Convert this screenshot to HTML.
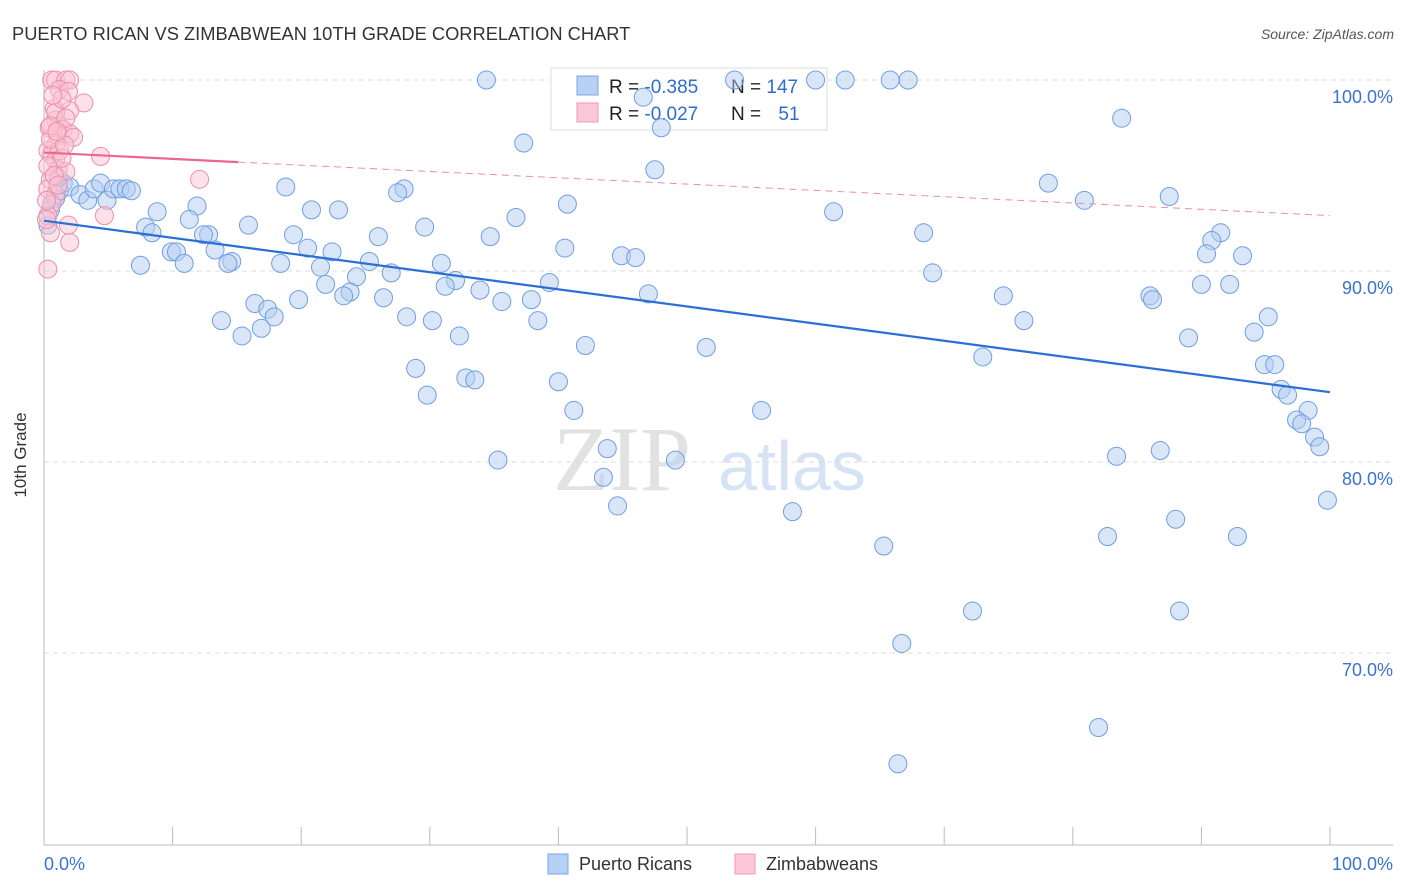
<!DOCTYPE html>
<html><head><meta charset="utf-8"><style>
body{margin:0;background:#fff;font-family:"Liberation Sans",sans-serif}
svg{display:block}
</style></head><body>
<svg id="chart" width="1406" height="892" xmlns="http://www.w3.org/2000/svg">
<text x="12" y="40" font-size="18.3" fill="#333">PUERTO RICAN VS ZIMBABWEAN 10TH GRADE CORRELATION CHART</text>
<text x="1394" y="39" font-size="14" fill="#555" text-anchor="end" font-style="italic">Source: ZipAtlas.com</text>
<g>
<text x="553" y="490" font-size="92" fill="#e2e2e2" font-family="Liberation Serif,serif">ZIP</text>
<text x="718" y="490" font-size="70" fill="#d6e3f5">atlas</text>
</g>
<g id="grid"></g>
<g id="axes"></g>
<g>
<rect x="551" y="68" width="276" height="62" fill="#fff" stroke="#ddd"/>
<rect x="577" y="76" width="21" height="19" fill="#b7d0f3" stroke="#7aa6e6"/>
<rect x="577" y="103" width="21" height="19" fill="#fac8d6" stroke="#ef98b2"/>
<text x="609" y="93" font-size="19" fill="#222">R = <tspan fill="#2e6dd0">-0.385</tspan></text>
<text x="731" y="93" font-size="19" fill="#222">N = <tspan fill="#2e6dd0">147</tspan></text>
<text x="609" y="120" font-size="19" fill="#222">R = <tspan fill="#2e6dd0">-0.027</tspan></text>
<text x="731" y="120" font-size="19" fill="#222">N = <tspan fill="#2e6dd0" dx="12">51</tspan></text>
</g>
<g id="pts"></g>
<g id="lines"></g>
<text x="26" y="455" font-size="17" fill="#333" transform="rotate(-90 26 455)" text-anchor="middle">10th Grade</text>
<g>
<rect x="548" y="854" width="20" height="20" fill="#b7d0f3" stroke="#7aa6e6"/>
<text x="579" y="870" font-size="18" fill="#333">Puerto Ricans</text>
<rect x="735" y="854" width="20" height="20" fill="#fac8d6" stroke="#ef98b2"/>
<text x="766" y="870" font-size="18" fill="#333">Zimbabweans</text>
</g>
</svg>
<script>
const xTicks=[0,10,20,30,40,50,60,70,80,90,100];
const yTicks=[100,90,80,70];
const yTickLabels=["100.0%","90.0%","80.0%","70.0%"];
const xAxisLabels=["0.0%","100.0%"];
const blueX=[34.4,53.7,60.0,62.3,65.8,67.2,46.6,48.0,37.3,83.8,47.5,28.0,27.5,18.8,78.1,80.9,87.5,61.4,40.7,36.7,29.6,22.9,20.8,15.9,11.9,11.3,8.8,7.9,8.4,12.8,12.4,19.4,26.0,34.7,68.4,91.5,90.8,90.4,93.2,40.5,44.9,46.0,20.5,22.4,9.9,10.3,13.3,7.5,10.9,14.6,14.3,18.4,21.5,25.3,24.3,27.0,30.9,32.0,31.2,33.9,35.6,37.9,39.3,47.0,69.1,74.6,86.0,86.2,90.0,92.2,76.2,89.0,95.2,94.1,21.9,23.8,23.3,26.4,19.8,16.4,17.4,17.9,13.8,28.2,30.2,38.4,32.3,15.4,16.9,42.1,51.5,73.0,94.9,95.7,28.9,32.8,33.5,40.0,29.8,96.2,96.7,98.3,97.4,97.8,98.8,99.2,55.8,41.2,43.8,35.3,49.1,83.4,86.8,43.5,44.6,58.2,99.8,88.0,82.7,92.8,65.3,72.2,88.3,66.7,82.0,66.4,0.6,0.9,1.2,1.5,2.0,2.8,3.4,3.9,4.4,4.9,5.4,5.9,6.4,6.8,0.3,0.5,1.1];
const blueY=[100,100,100,100,100,100,99.1,97.5,96.7,98.0,95.3,94.3,94.1,94.4,94.6,93.7,93.9,93.1,93.5,92.8,92.3,93.2,93.2,92.4,93.4,92.7,93.1,92.3,92.0,91.9,91.9,91.9,91.8,91.8,92.0,92.0,91.6,90.9,90.8,91.2,90.8,90.7,91.2,91.0,91.0,91.0,91.1,90.3,90.4,90.5,90.4,90.4,90.2,90.5,89.7,89.9,90.4,89.5,89.2,89.0,88.4,88.5,89.4,88.8,89.9,88.7,88.7,88.5,89.3,89.3,87.4,86.5,87.6,86.8,89.3,88.9,88.7,88.6,88.5,88.3,88.0,87.6,87.4,87.6,87.4,87.4,86.6,86.6,87.0,86.1,86.0,85.5,85.1,85.1,84.9,84.4,84.3,84.2,83.5,83.8,83.5,82.7,82.2,82.0,81.3,80.8,82.7,82.7,80.7,80.1,80.1,80.3,80.6,79.2,77.7,77.4,78.0,77.0,76.1,76.1,75.6,72.2,72.2,70.5,66.1,64.2,93.5,93.8,94.2,94.6,94.4,94.0,93.7,94.3,94.6,93.7,94.3,94.3,94.3,94.2,92.4,93.2,94.9];
const pinkX=[0.6,0.9,1.7,2.0,1.2,1.9,3.1,0.8,2.0,0.9,1.2,1.5,1.1,2.0,2.3,0.9,0.3,0.6,0.9,1.1,1.7,0.5,0.3,0.9,0.6,0.3,0.5,0.3,2.0,4.4,12.1,4.7,1.2,1.4,0.3,0.8,0.2,0.9,1.4,0.4,0.5,1.7,1.1,0.2,1.6,0.7,0.5,1.0,1.9];
const pinkY=[100,100,100,100,99.5,99.4,98.8,98.5,98.4,97.9,97.6,97.4,97.1,97.2,97.0,96.6,96.3,96.1,95.8,95.3,95.2,94.8,94.3,94.0,93.5,92.9,92.0,90.1,91.5,96.0,94.8,92.9,96.3,95.9,95.5,95.0,93.7,98.3,99.0,97.5,96.9,98.0,94.5,92.7,96.6,99.2,97.6,97.3,92.4];
const pinkTrendStart=96.2;
const pinkTrendEnd=92.9;
const NS="http://www.w3.org/2000/svg";
const X0=44,X1=1330,Y100=80,YPER=19.1;
const sx=v=>X0+(X1-X0)*v/100;
const sy=v=>Y100+(100-v)*YPER;
function mk(tag,attrs,parent){const e=document.createElementNS(NS,tag);for(const k in attrs)e.setAttribute(k,attrs[k]);parent.appendChild(e);return e;}
const grid=document.getElementById('grid'),axes=document.getElementById('axes'),pts=document.getElementById('pts'),lines=document.getElementById('lines');
yTicks.forEach((t,i)=>{
  const l=mk('line',{x1:44,x2:1393,y1:sy(t),y2:sy(t),stroke:'#ddd','stroke-dasharray':'5,4'},grid);
  
  
  const tx=mk('text',{x:1393,y:sy(t)+23,'font-size':18,fill:'#3b72d2','text-anchor':'end'},axes);
  tx.textContent=yTickLabels[i];
  
  
});
mk('line',{x1:44,x2:44,y1:70,y2:845,stroke:'#bbb'},axes);
mk('line',{x1:44,x2:1393,y1:845,y2:845,stroke:'#bbb'},axes);
xTicks.forEach(t=>{
  const l=mk('line',{x1:sx(t),x2:sx(t),y1:827,y2:845,stroke:'#bbb'},axes);
  
  
});
const xl0=mk('text',{x:44,y:870,'font-size':18,fill:'#3b72d2'},axes);xl0.textContent=xAxisLabels[0];


const xl1=mk('text',{x:1393,y:870,'font-size':18,fill:'#3b72d2','text-anchor':'end'},axes);xl1.textContent=xAxisLabels[1];


function dots(xs,ys,fill,stroke,name){xs.forEach((x,i)=>{
  const c=mk('circle',{cx:sx(x),cy:sy(ys[i]),r:9,fill:fill,'fill-opacity':0.5,stroke:stroke,'stroke-width':1},pts);
  
  
});}
dots(blueX,blueY,'#b3cdf2','#6f9ee3','puerto-rican-point');
dots(pinkX,pinkY,'#f9c3d3','#ec8eab','zimbabwean-point');
function reg(xs,ys){const n=xs.length;let mx=0,my=0;for(let i=0;i<n;i++){mx+=xs[i];my+=ys[i];}mx/=n;my/=n;let a=0,b=0;for(let i=0;i<n;i++){a+=(xs[i]-mx)*(ys[i]-my);b+=(xs[i]-mx)**2;}const m=a/b;return [m,my-m*mx];}
const [bm,bb]=reg(blueX,blueY);
const bl=mk('line',{x1:sx(0),y1:sy(bb),x2:sx(100),y2:sy(bb+100*bm),stroke:'#2a6fd6','stroke-width':2.2},lines);


const pm=(pinkTrendEnd-pinkTrendStart)/100,pb=pinkTrendStart;
const pxMax=Math.max(...pinkX)+3;
const pl=mk('line',{x1:sx(0),y1:sy(pb),x2:sx(pxMax),y2:sy(pb+pxMax*pm),stroke:'#ec6690','stroke-width':2.2},lines);


const pd=mk('line',{x1:sx(pxMax),y1:sy(pb+pxMax*pm),x2:sx(100),y2:sy(pb+100*pm),stroke:'#ec8eab','stroke-width':1,'stroke-dasharray':'7,5'},lines);


</script>
</body></html>
